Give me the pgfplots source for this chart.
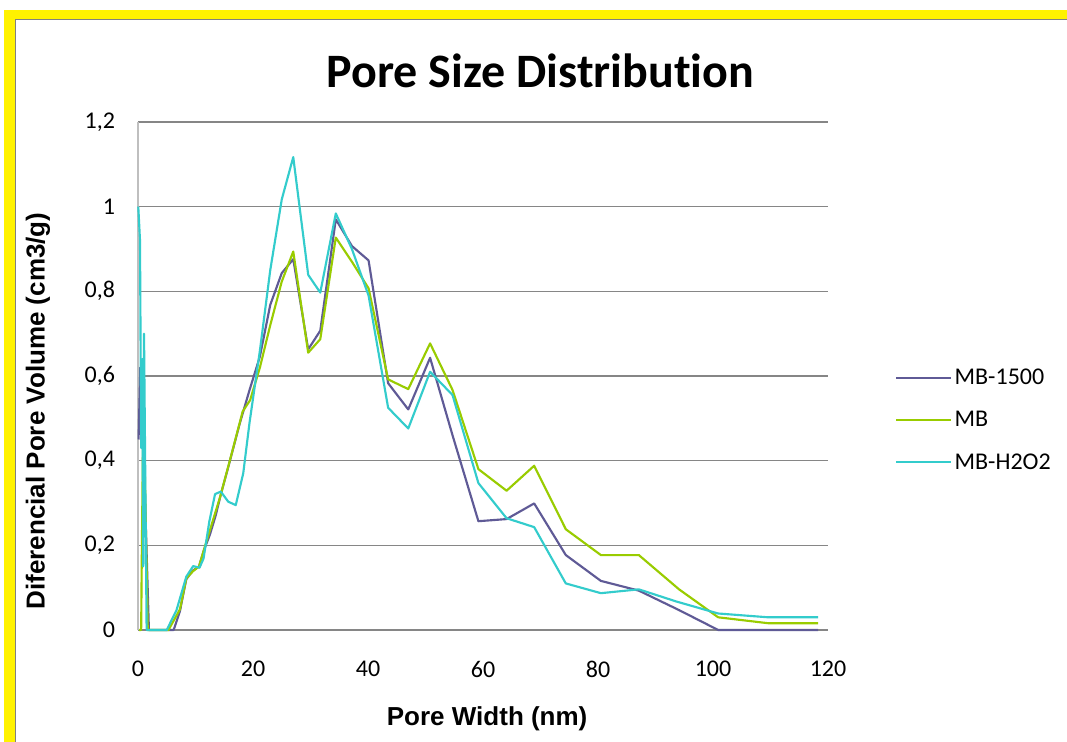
\documentclass[border=0pt]{standalone}
\usepackage{fontspec}
\setmainfont{Carlito}[Ligatures={NoCommon}]
\newfontfamily\arialfont{Liberation Sans}
\usepackage{pgfplots}
\pgfplotsset{compat=1.18}
\definecolor{mbpurple}{HTML}{5F5A96}
\definecolor{mbgreen}{HTML}{99CC00}
\definecolor{mbcyan}{HTML}{33CCCC}
\definecolor{gridgray}{HTML}{868686}
\definecolor{axisgray}{HTML}{BFBFBF}

\begin{document}
\begin{tikzpicture}
% frame, in pixel units of the reference (origin top left)
\begin{scope}[x=0.75pt,y=-0.75pt,shift={(-103.5pt,472.5pt)}]
\useasboundingbox (0,0) rectangle (1067,742);
\fill[white] (0,0) rectangle (1067,742);
\fill[yellow] (4,10) rectangle (1067,742);
\fill[white] (15,19) rectangle (1067,742);
\draw[gray,line width=0.8pt] (15.5,742) -- (15.5,19.5) -- (1067,19.5);
\end{scope}

\begin{axis}[
  at={(0,0)}, anchor=south west,
  scale only axis,
  width=517.5pt, height=381pt,
  xmin=0, xmax=120, ymin=0, ymax=1.2,
  xtick={0,20,40,60,80,100,120},
  ytick={0,0.2,0.4,0.6,0.8,1,1.2},
  major tick length=0pt,
  ymajorgrids,
  grid style={gridgray,line width=0.9pt},
  separate axis lines,
  axis lines*=left,
  x axis line style={gridgray,line width=0.9pt},
  y axis line style={axisgray,line width=1.5pt},
  clip=false,
  /pgf/number format/use comma,
  /pgf/number format/assume math mode=true,
  tick label style={font=\fontsize{18}{21}\selectfont},
  yticklabel style={inner sep=0pt,anchor=east,xshift=-17pt},
  xticklabel style={inner sep=0pt,anchor=north,yshift=-23pt},
  title={\fontsize{36}{40}\selectfont\bfseries Pore Size Distribution},
  title style={at={(axis description cs:0.583,1.084)},anchor=center,inner sep=0pt},
  xlabel={\arialfont\bfseries Pore Width (nm)},
  xlabel style={at={(axis description cs:0.506,-0.175)},anchor=center,inner sep=0pt,font=\fontsize{19.5}{22}\selectfont},
  ylabel={\arialfont\bfseries Diferencial Pore Volume (cm3/g)},
  ylabel style={at={(axis description cs:-0.145,0.431)},anchor=center,rotate=0,inner sep=0pt,font=\fontsize{19.5}{22}\selectfont},
  legend style={at={(axis description cs:1.097,0.413)},anchor=west,draw=none,fill=none,
    font=\fontsize{18}{21}\selectfont,row sep=14.5pt,inner sep=0pt},
  legend cell align=left,
  legend image code/.code={\draw[#1] (0pt,0pt) -- (41pt,0pt);},
  every axis plot/.append style={line width=1.6pt,line join=round},
]
\addplot[mbpurple] coordinates {
(0.1,0.45) (0.4,0.62) (0.7,0.45) (1.0,0.5) (1.2,0.32) (1.9,0) (6.2,0)
(7.3,0.045) (8.4,0.12) (9.5,0.14) (10.6,0.15) (11.5,0.19) (12.5,0.225)
(13.5,0.27) (14.4,0.32) (15.7,0.385) (17.7,0.488) (19.4,0.567) (21.2,0.646)
(23.0,0.768) (25.0,0.843) (27.0,0.876) (29.6,0.663) (31.7,0.707) (34.4,0.970)
(37.2,0.907) (40.1,0.873) (43.5,0.583) (47.0,0.521) (50.8,0.643) (54.7,0.46)
(59.2,0.257) (64.1,0.262) (68.9,0.299) (74.4,0.177) (80.5,0.116) (87.1,0.093)
(94.1,0.047) (100.9,0.0) (109.6,0.0) (118.3,0.0)
};
\addplot[mbgreen] coordinates {
(0.2,0) (0.55,0) (0.65,0.16) (0.9,0.49) (1.1,0.44) (1.7,0) (5.3,0)
(7.3,0.049) (8.4,0.122) (9.5,0.138) (10.6,0.15) (11.7,0.2) (14.3,0.315)
(16.3,0.417) (18.2,0.516) (19.5,0.543) (21.2,0.62) (23.0,0.72) (25.0,0.823)
(27.0,0.894) (29.6,0.655) (31.7,0.687) (34.4,0.927) (37.2,0.87) (40.1,0.807)
(43.5,0.592) (47.0,0.569) (50.8,0.677) (54.7,0.567) (59.2,0.380) (64.1,0.329)
(68.9,0.388) (74.4,0.238) (80.5,0.177) (87.1,0.177) (94.1,0.096) (100.9,0.030)
(109.6,0.016) (118.3,0.016)
};
\addplot[mbcyan] coordinates {
(0.05,1.0) (0.35,0.92) (0.55,0.43) (0.75,0.64) (0.9,0.15) (1.05,0.70) (1.5,0)
(5.0,0) (6.7,0.047) (8.4,0.126) (9.6,0.151) (10.7,0.147) (11.4,0.169)
(12.4,0.256) (13.4,0.321) (14.4,0.327) (15.7,0.303) (17.0,0.295) (18.3,0.37)
(19.4,0.49) (21.2,0.66) (23.0,0.85) (25.0,1.017) (27.0,1.117) (29.6,0.839)
(31.7,0.797) (34.4,0.984) (37.2,0.90) (40.1,0.79) (43.5,0.525) (47.0,0.476)
(50.8,0.61) (54.7,0.555) (59.2,0.347) (64.1,0.264) (68.9,0.243) (74.4,0.110)
(80.5,0.087) (87.1,0.096) (93.7,0.067) (100.9,0.039) (109.6,0.030) (118.3,0.030)
};
\legend{MB-1500,MB,MB-H2O2}
\end{axis}
\end{tikzpicture}
\end{document}
